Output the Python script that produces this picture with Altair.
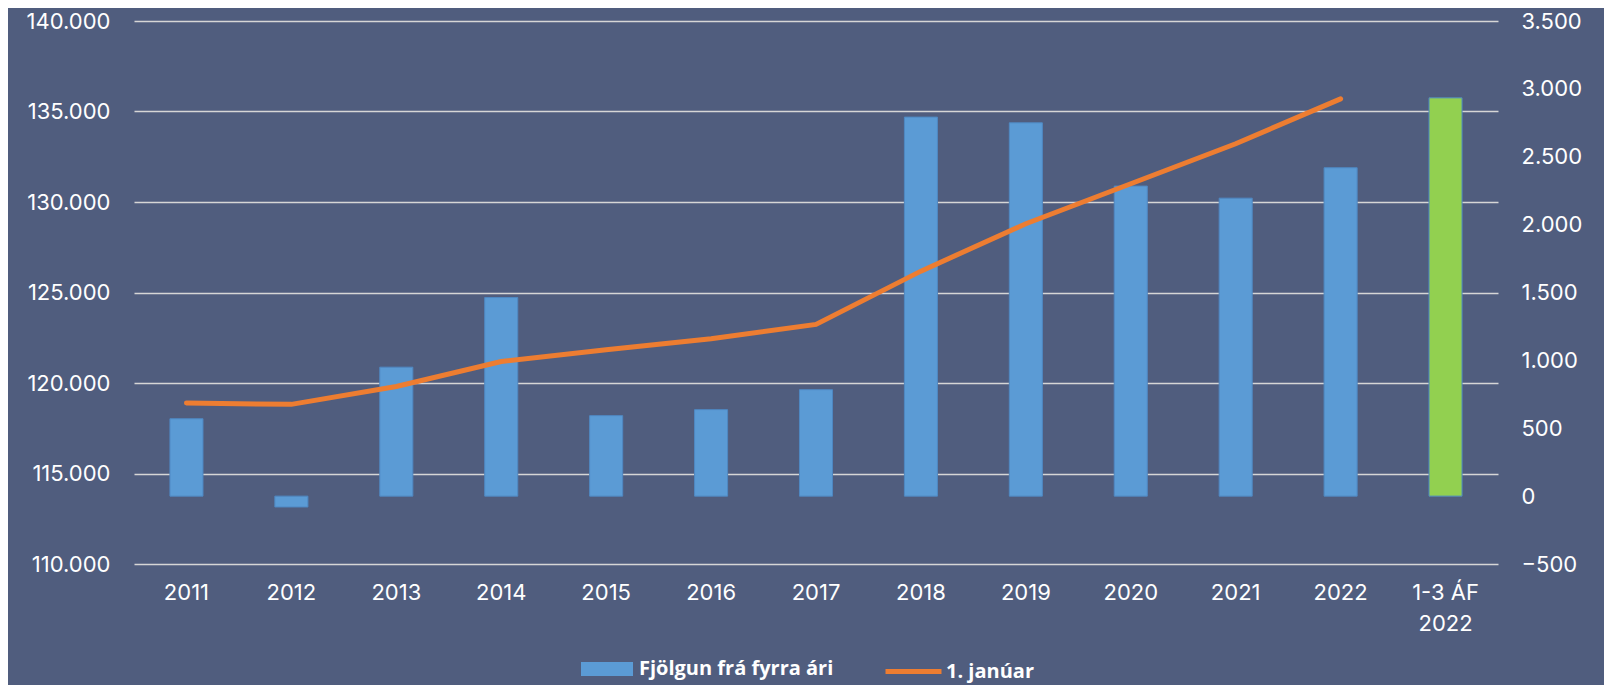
import altair as alt
import pandas as pd

categories = ["2011", "2012", "2013", "2014", "2015", "2016", "2017", "2018",
              "2019", "2020", "2021", "2022", "1-3 ÁF|2022"]
growth = [570, -80, 950, 1463, 593, 637, 784, 2792, 2750, 2284, 2195, 2419, 2934]
bar_series = ["Fjölgun frá fyrra ári"] * 12 + ["1-3 ÁF 2022"]
line_categories = categories[:12]
population = [118890, 118820, 119810, 121190, 121840, 122450, 123240, 126180,
              128800, 131010, 133220, 135700]

BG = "#505d7e"
BLUE = "#5b9bd5"
GREEN = "#92d050"
ORANGE = "#ed7d31"
FONT = "Inter"
LEGEND_FONT = "Open Sans"

df_bar = pd.DataFrame({"cat": categories, "growth": growth, "series": bar_series})
df_line = pd.DataFrame({"cat": line_categories, "pop": population,
                        "lname": ["1. janúar"] * len(line_categories)})

x_enc = alt.X(
    "cat:N",
    sort=categories,
    scale=alt.Scale(domain=categories, paddingInner=0.685, paddingOuter=0.3425),
    axis=alt.Axis(
        title=None, labelAngle=0, ticks=False, domain=False, grid=False,
        labelExpr="split(datum.label, '|')", labelFont=FONT, labelFontSize=22,
        labelColor="#ffffff", labelPadding=18, labelLineHeight=31,
    ),
)

fmt = "replace(format(datum.value, ','), ',', '.')"

bars = alt.Chart(df_bar).mark_bar(stroke="#4f88c2", strokeWidth=1).encode(
    x=x_enc,
    y=alt.Y(
        "growth:Q",
        scale=alt.Scale(domain=[-500, 3500], nice=False, zero=False),
        axis=alt.Axis(
            orient="right", title=None, grid=False, ticks=False, domain=False,
            values=[-500, 0, 500, 1000, 1500, 2000, 2500, 3000, 3500],
            labelExpr=fmt, labelFont=FONT, labelFontSize=22, labelColor="#ffffff",
            labelPadding=23,
        ),
    ),
    fill=alt.Fill(
        "series:N",
        scale=alt.Scale(domain=["Fjölgun frá fyrra ári", "1-3 ÁF 2022"], range=[BLUE, GREEN]),
        legend=alt.Legend(
            title=None, orient="none", legendX=447, legendY=622, direction="horizontal",
            values=["Fjölgun frá fyrra ári"],
            symbolType="M-1,-0.27H1V0.27H-1Z", symbolSize=2704, symbolStrokeWidth=0,
            labelFont=LEGEND_FONT, labelFontWeight="bold", labelFontSize=20, labelLimit=0,
            labelColor="#ffffff", labelOffset=6, padding=0,
        ),
    ),
)

line = alt.Chart(df_line).mark_line(strokeWidth=5, strokeCap="round").encode(
    x=x_enc,
    y=alt.Y(
        "pop:Q",
        scale=alt.Scale(domain=[110000, 140000], nice=False, zero=False),
        axis=alt.Axis(
            orient="left", title=None, ticks=False, domain=False,
            values=[110000, 115000, 120000, 125000, 130000, 135000, 140000],
            grid=True, gridColor="#d6d6d6", gridWidth=1.5,
            labelExpr=fmt, labelFont=FONT, labelFontSize=22, labelColor="#ffffff",
            labelPadding=24,
        ),
    ),
    stroke=alt.Stroke(
        "lname:N",
        scale=alt.Scale(domain=["1. janúar"], range=[ORANGE]),
        legend=alt.Legend(
            title=None, orient="none", legendX=749, legendY=620, direction="horizontal",
            symbolType="stroke", symbolSize=3136, symbolStrokeWidth=5,
            labelFont=LEGEND_FONT, labelFontWeight="bold", labelFontSize=20, labelLimit=0,
            labelColor="#ffffff", labelOffset=2, padding=0,
        ),
    ),
)

chart = (
    alt.layer(bars, line)
    .resolve_scale(y="independent", fill="independent", stroke="independent")
    .properties(
        width=1364, height=543,
        padding={"left": 126, "top": 13, "right": 106, "bottom": 121},
        autosize=alt.AutoSizeParams(type="none"),
        background=BG,
    )
    .configure_view(stroke=None)
)

chart.save("out.html", embed_options={"renderer": "svg", "actions": False})
